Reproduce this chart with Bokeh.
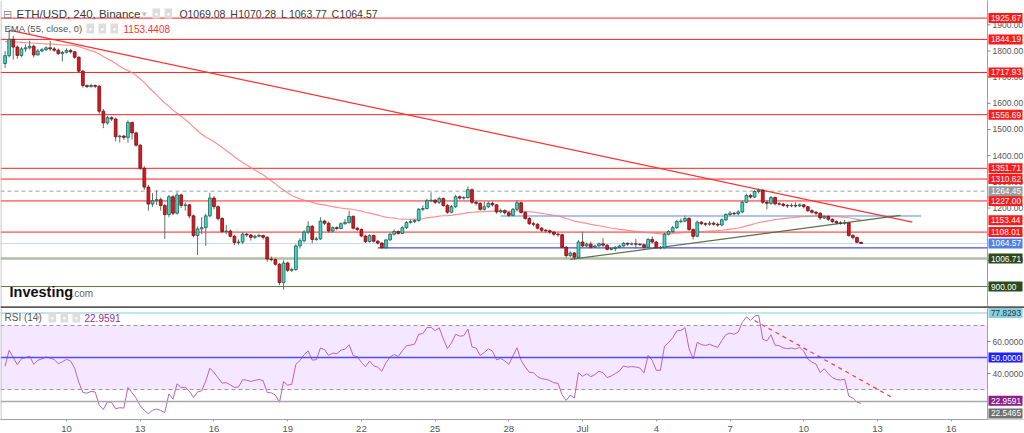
import pandas as pd
from bokeh.plotting import figure
from bokeh.layouts import column
from bokeh.models import Span, Label, FixedTicker, Range1d, ColumnDataSource, BoxAnnotation
from bokeh.core.properties import value
from bokeh.embed import file_html
from bokeh.resources import INLINE

# ---------------- data (ETH/USD, 4h candles, Binance) ----------------
first_time = "2022-06-07 12:00"
first_open = 1752.0
close = [1782, 1845, 1815, 1783, 1808, 1812, 1818, 1785, 1800, 1805,
         1812, 1808, 1803, 1790, 1795, 1802, 1797, 1776, 1723, 1668,
         1664, 1668, 1665, 1570, 1525, 1545, 1540, 1472, 1475, 1470,
         1527, 1487, 1440, 1352, 1280, 1215, 1228, 1232, 1210, 1175,
         1243, 1180, 1250, 1210, 1212, 1170, 1095, 1120, 1125, 1170,
         1238, 1205, 1160, 1110, 1112, 1092, 1068, 1070, 1100, 1097,
         1088, 1092, 1095, 1088, 1005, 1003, 985, 915, 990, 962,
         965, 1055, 1075, 1108, 1130, 1080, 1082, 1150, 1142, 1112,
         1125, 1122, 1140, 1145, 1168, 1123, 1118, 1093, 1072, 1095,
         1073, 1066, 1048, 1078, 1100, 1110, 1103, 1125, 1145, 1148,
         1152, 1195, 1198, 1228, 1230, 1222, 1236, 1210, 1184, 1205,
         1243, 1238, 1240, 1270, 1222, 1218, 1195, 1205, 1218, 1212,
         1185, 1190, 1182, 1172, 1195, 1220, 1183, 1160, 1140, 1138,
         1123, 1115, 1113, 1108, 1100, 1098, 1050, 1018, 1028, 1012,
         1070, 1055, 1062, 1050, 1055, 1063, 1058, 1042, 1045, 1050,
         1055, 1065, 1062, 1063, 1062, 1060, 1050, 1080, 1070, 1048,
         1048, 1100, 1110, 1125, 1148, 1150, 1160, 1118, 1092, 1146,
         1140, 1138, 1142, 1138, 1135, 1155, 1175, 1180, 1178, 1185,
         1222, 1248, 1242, 1263, 1268, 1222, 1218, 1240, 1216, 1215,
         1210, 1208, 1210, 1208, 1212, 1205, 1190, 1184, 1180, 1162,
         1168, 1157, 1148, 1143, 1142, 1143, 1095, 1087, 1069.08, 1064.57]
high = [1800, 1880, 1858, 1822, 1815, 1825, 1840, 1824, 1808, 1812,
        1818, 1838, 1815, 1810, 1800, 1810, 1808, 1800, 1780, 1728,
        1672, 1675, 1672, 1670, 1578, 1552, 1550, 1545, 1480, 1480,
        1535, 1530, 1492, 1445, 1360, 1288, 1257, 1268, 1240, 1215,
        1250, 1250, 1262, 1255, 1222, 1215, 1175, 1130, 1165, 1178,
        1258, 1246, 1210, 1165, 1135, 1118, 1098, 1080, 1108, 1105,
        1100, 1098, 1102, 1098, 1092, 1015, 1008, 990, 1000, 995,
        972, 1062, 1085, 1115, 1150, 1135, 1090, 1165, 1155, 1148,
        1130, 1130, 1145, 1158, 1190, 1172, 1128, 1122, 1098, 1100,
        1098, 1078, 1070, 1082, 1106, 1118, 1115, 1130, 1150, 1155,
        1158, 1200, 1210, 1235, 1260, 1235, 1242, 1240, 1215, 1212,
        1250, 1248, 1246, 1282, 1275, 1228, 1222, 1225, 1225, 1225,
        1215, 1198, 1195, 1188, 1200, 1230, 1225, 1188, 1165, 1148,
        1142, 1128, 1120, 1118, 1112, 1105, 1102, 1055, 1035, 1032,
        1078, 1110, 1068, 1072, 1060, 1068, 1085, 1062, 1050, 1055,
        1060, 1070, 1068, 1068, 1082, 1066, 1064, 1085, 1092, 1074,
        1055, 1105, 1115, 1132, 1155, 1160, 1172, 1165, 1122, 1152,
        1150, 1145, 1150, 1148, 1145, 1160, 1180, 1188, 1185, 1192,
        1228, 1255, 1255, 1268, 1275, 1272, 1230, 1246, 1244, 1222,
        1220, 1215, 1218, 1222, 1218, 1216, 1208, 1195, 1188, 1184,
        1172, 1172, 1160, 1152, 1150, 1155, 1146, 1100, 1092, 1070.28]
low = [1735, 1775, 1767, 1770, 1776, 1796, 1805, 1775, 1782, 1795,
       1800, 1800, 1796, 1785, 1760, 1790, 1790, 1770, 1715, 1660,
       1658, 1660, 1658, 1560, 1505, 1518, 1532, 1455, 1450, 1460,
       1450, 1462, 1435, 1345, 1270, 1190, 1205, 1212, 1190, 1082,
       1165, 1172, 1175, 1200, 1190, 1160, 1088, 1020, 1100, 1055,
       1165, 1195, 1152, 1105, 1100, 1088, 1058, 1060, 1062, 1090,
       1075, 1082, 1088, 1080, 995, 996, 980, 905, 888, 955,
       955, 960, 1045, 1068, 1100, 1065, 1074, 1078, 1135, 1105,
       1106, 1115, 1118, 1136, 1140, 1118, 1112, 1088, 1066, 1068,
       1068, 1060, 1044, 1045, 1075, 1095, 1098, 1100, 1120, 1140,
       1142, 1148, 1188, 1195, 1222, 1215, 1215, 1205, 1178, 1180,
       1200, 1232, 1232, 1236, 1215, 1210, 1190, 1190, 1200, 1205,
       1178, 1180, 1175, 1165, 1168, 1190, 1178, 1155, 1135, 1130,
       1118, 1108, 1105, 1100, 1092, 1090, 1045, 1010, 1012, 1003,
       1008, 1050, 1050, 1045, 1048, 1052, 1052, 1038, 1038, 1035,
       1046, 1052, 1056, 1057, 1045, 1055, 1045, 1046, 1065, 1044,
       1042, 1045, 1095, 1105, 1120, 1142, 1145, 1112, 1080, 1088,
       1135, 1130, 1132, 1132, 1128, 1130, 1150, 1170, 1172, 1172,
       1180, 1218, 1236, 1238, 1255, 1215, 1195, 1212, 1210, 1210,
       1204, 1200, 1203, 1202, 1204, 1198, 1185, 1178, 1172, 1155,
       1158, 1150, 1142, 1138, 1136, 1136, 1090, 1080, 1065, 1063.77]
last_open = 1069.08

# indicator settings / seeds (values read at the left edge of the chart)
ema_len = 55
ema_seed = 1838.0
rsi_len = 14
rsi_seed_gain, rsi_seed_loss = 8.3, 13.2

# horizontal levels on the price pane
red_levels = [1925.67, 1844.19, 1717.93, 1556.69, 1351.71, 1310.62, 1227.00, 1108.01]
gray_level = 1264.45
ema_last_label = 1153.44
price_last = 1064.57
green_light_level = 1006.71
green_dark_level = 900.00
blue_level = 1048.0
blue_start = "2022-06-22 16:00"
lightblue_level = 1169.0
lightblue_t = ["2022-06-27 16:00", "2022-07-14 18:40"]
down_t = ["2022-06-07 16:00", "2022-07-14 10:00"]
down_p = [1880.0, 1146.0]
up_t = ["2022-06-30 12:00", "2022-07-13 22:24"]
up_p = [1003.5, 1172.0]
price_ticks = [900, 1000, 1100, 1200, 1300, 1400, 1500, 1600, 1700, 1800, 1900]

# header values
ohlc_letters = ["O", "H", "L", "C"]
ohlc_values = ["1069.08", "1070.28", "1063.77", "1064.57"]

# RSI pane
rsi_top_level = 77.8293
rsi_low_level = 22.5465
rsi_last_label = 22.9591
rsi_trend_t = ["2022-07-08 00:00", "2022-07-13 15:00"]
rsi_trend_v = [73.1, 24.8]
rsi_ticks = [40, 60]

tick_dates = ["2022-06-10", "2022-06-13", "2022-06-16", "2022-06-19", "2022-06-22",
              "2022-06-25", "2022-06-28", "2022-07-01", "2022-07-04", "2022-07-07",
              "2022-07-10", "2022-07-13", "2022-07-16"]
tick_labels = ["10", "13", "16", "19", "22", "25", "28", "Jul", "4", "7", "10", "13", "16"]

# ---------------- derived ----------------
times = pd.date_range(first_time, periods=len(close), freq="4h")
opens = [first_open] + close[:-1]
opens[-1] = last_open

ema = []
e = ema_seed
k = 2.0 / (ema_len + 1)
for c in close:
    e = e + k * (c - e)
    ema.append(e)

rsi = []
ag, al = rsi_seed_gain, rsi_seed_loss
prev = first_open
for c in close:
    ch = c - prev
    ag = (ag * (rsi_len - 1) + max(ch, 0)) / rsi_len
    al = (al * (rsi_len - 1) + max(-ch, 0)) / rsi_len
    rsi.append(100.0 * ag / (ag + al))
    prev = c

UP_FILL, UP_LINE = "#3ddbc9", "#1d5a50"
DN_FILL, DN_LINE = "#e8141c", "#6b1111"
WICK = "#5f7264"
FONT = "Liberation Sans"

up = [c >= o for o, c in zip(opens, close)]
src = ColumnDataSource(dict(
    t=times, o=opens, h=high, l=low, c=close,
    top=[max(o, c) for o, c in zip(opens, close)],
    bot=[min(o, c) for o, c in zip(opens, close)],
    fill=[UP_FILL if u else DN_FILL for u in up],
    line=[UP_LINE if u else DN_LINE for u in up],
))

# ---------------- geometry ----------------
W = 1024
H1 = 308
FH2 = 111
day_px = 24.575
ref_day = pd.Timestamp("2022-06-10")


def px_t(px):
    return ref_day + pd.Timedelta(days=(px - 66) / day_px)


xr = Range1d(px_t(0), px_t(W))
SCALE_X = 987

ppx = 3.821  # price units per pixel
y_hi = 1992.9
y_lo = y_hi - H1 * ppx
rpx = 1 / 1.6  # rsi units per pixel
r_top = 50 + 49 * rpx
r_bot = r_top - FH2 * rpx


def draw_scale(fig, lo, hi, upp, ticks, fmt, tags):
    xa = px_t(SCALE_X)
    fig.quad(left=[xa], right=[px_t(W)], bottom=[lo], top=[hi], fill_color="white",
             line_color=None, level="overlay")
    fig.segment(x0=[xa], y0=[lo], x1=[xa], y1=[hi], line_color="#a0a0a0", line_width=1, level="overlay")
    n = len(ticks)
    fig.segment(x0=[xa] * n, y0=ticks, x1=[px_t(SCALE_X + 3)] * n, y1=ticks,
                line_color="#888888", line_width=1, level="overlay")
    fig.text(x=[px_t(SCALE_X + 5)] * n, y=ticks, text=[fmt % t for t in ticks],
             text_font=value(FONT), text_font_size="8.5px", text_color="#555555",
             text_baseline="middle", text_align="left", level="overlay")
    for v, bg, fg, dy in tags:
        yc = v - dy * upp
        fig.quad(left=[px_t(SCALE_X + 1)], right=[px_t(SCALE_X + 35)], bottom=[yc - 5 * upp],
                 top=[yc + 5 * upp], fill_color=bg, line_color=None, level="overlay")
        fig.text(x=[px_t(SCALE_X + 3.5)], y=[yc], text=[fmt % v], text_font=value(FONT),
                 text_font_size="8.3px", text_color=fg, text_baseline="middle",
                 text_align="left", level="overlay")


def hdr(fig, x, y, text, size="12px", color="#333333", style="normal"):
    fig.add_layout(Label(x=x, y=y, x_units="screen", y_units="screen", text=text,
                         text_font=FONT, text_font_size=size, text_color=color,
                         text_baseline="middle", text_align="left", text_font_style=style))


def icons(fig, xs, y):
    for xx in xs:
        fig.add_layout(Label(x=xx, y=y, x_units="screen", y_units="screen", text="\u25cf",
                             text_font_size="6px", text_color="white", text_baseline="middle",
                             background_fill_color="#dddddd", padding=2))


# ---------------- price pane ----------------
p1 = figure(frame_width=W, frame_height=H1, x_range=xr, y_range=Range1d(y_lo, y_hi),
            x_axis_type="datetime", x_axis_location=None, y_axis_location=None,
            toolbar_location=None, output_backend="svg",
            min_border_left=0, min_border_right=0, min_border_top=0, min_border_bottom=0,
            background_fill_color="white", border_fill_color="white", outline_line_color=None)
p1.grid.visible = False

for lv in red_levels:
    p1.add_layout(Span(location=lv, dimension="width", line_color="#ff2020", line_width=1, level="underlay"))
p1.add_layout(Span(location=gray_level, dimension="width", line_color="#a0a0a0", line_width=1,
                   line_dash="4 3", level="underlay"))
p1.add_layout(Span(location=green_light_level, dimension="width", line_color="#aebfa5", line_width=2.5, level="underlay"))
p1.add_layout(Span(location=green_dark_level, dimension="width", line_color="#557a44", line_width=1, level="underlay"))
p1.add_layout(Span(location=price_last, dimension="width", line_color="#8fb0ee", line_width=1,
                   line_dash="1 1", level="underlay"))
p1.line([pd.Timestamp(blue_start), px_t(W)], [blue_level, blue_level], line_color="#4b4bd8", line_width=1.2)
p1.line([pd.Timestamp(t) for t in lightblue_t], [lightblue_level] * 2, line_color="#a9c4ee", line_width=2)

p1.line(times, ema, line_color="#ff7b7b", line_width=1.2, line_alpha=0.85)
p1.line([pd.Timestamp(t) for t in down_t], down_p, line_color="#ff3030", line_width=1.2)
p1.line([pd.Timestamp(t) for t in up_t], up_p, line_color="#5d6e4e", line_width=1.2)

w = 4 * 3600 * 1000 * 0.68
p1.segment(x0="t", y0="l", x1="t", y1="h", source=src, line_color=WICK, line_width=1)
p1.vbar(x="t", width=w, top="top", bottom="bot", source=src,
        fill_color="fill", line_color="line", line_width=0.8)

tags1 = [(v, "#ff1a1a", "white", 0) for v in red_levels] + [
    (gray_level, "#9b9b9b", "white", 0), (ema_last_label, "#ff1a1a", "white", 0),
    (price_last, "#4f7fe8", "white", 0),
    (green_light_level, "#2c4a1c", "white", 0), (green_dark_level, "#2c4a1c", "white", 0)]
draw_scale(p1, y_lo, y_hi, ppx, price_ticks, "%.2f", tags1)

# left border and pane separator
p1.add_layout(Span(location=px_t(0.5), dimension="height", line_color="#b4b4b4", line_width=1))
p1.add_layout(Span(location=y_lo + 1.2 * ppx, dimension="width", line_color="#5a5a5a", line_width=2,
                   level="overlay"))

hdr(p1, 2, H1 - 13, "\u229f", size="11px", color="#8a8a8a")
hdr(p1, 16, H1 - 13, "ETH/USD, 240, Binance", size="11.5px", color="#3a3a3a")
hdr(p1, 141, H1 - 13, "\u25be", size="9px", color="#c0c0c0")
icons(p1, [152, 164], H1 - 13)
for j, (lt, vv) in enumerate(zip(ohlc_letters, ohlc_values)):
    hdr(p1, 179 + 50.7 * j, H1 - 13, lt, size="10.5px", color="#3a3a3a")
    hdr(p1, 187 + 50.7 * j, H1 - 13, vv, size="10.5px", color="#3a3a3a")
hdr(p1, 4, H1 - 28, "EMA (55, close, 0)", size="9.5px", color="#555555")
hdr(p1, 75, H1 - 28, "\u25be", size="8px", color="#c0c0c0")
icons(p1, [86, 98, 110], H1 - 28)
hdr(p1, 123, H1 - 28, "1153.4408", size="10px", color="#ff3030")
hdr(p1, 9, 17, "Investing", size="14.5px", color="#111111", style="bold")
hdr(p1, 71, 15, ".com", size="10px", color="#666666")

# ---------------- RSI pane ----------------
p2 = figure(frame_width=W, frame_height=FH2, x_range=xr, y_range=Range1d(r_bot, r_top),
            x_axis_type="datetime", y_axis_location=None,
            toolbar_location=None, output_backend="svg",
            min_border_left=0, min_border_right=0, min_border_top=0, min_border_bottom=0,
            background_fill_color="white", border_fill_color="white", outline_line_color=None)
p2.grid.visible = False

rx = p2.xaxis[0]
tick_ms = [pd.Timestamp(d).value // 10**6 for d in tick_dates]
rx.ticker = FixedTicker(ticks=tick_ms)
rx.major_label_overrides = {m: lab for m, lab in zip(tick_ms, tick_labels)}
rx.major_label_text_font_size = "9.5px"
rx.major_label_text_color = "#555555"
rx.major_label_text_font = FONT
rx.axis_line_color = "#a0a0a0"
rx.major_tick_line_color = "#a0a0a0"
rx.major_tick_out = 2
rx.major_tick_in = 0
rx.minor_tick_line_color = None
rx.major_label_standoff = 1

p2.add_layout(BoxAnnotation(bottom=30, top=70, fill_color="#9915ff", fill_alpha=0.1,
                            line_color=None, level="underlay"))
p2.add_layout(Span(location=70, dimension="width", line_color="#a090a4", line_dash="4 3", line_width=1))
p2.add_layout(Span(location=30, dimension="width", line_color="#a090a4", line_dash="4 3", line_width=1))
p2.add_layout(Span(location=50, dimension="width", line_color="#4d4dff", line_width=1.5))
p2.add_layout(Span(location=rsi_top_level, dimension="width", line_color="#aadcea", line_width=1.5))
p2.add_layout(Span(location=rsi_low_level, dimension="width", line_color="#a8a8a8", line_width=1.5))
p2.add_layout(Span(location=px_t(0.5), dimension="height", line_color="#b4b4b4", line_width=1))
p2.line(times, rsi, line_color="#b463c8", line_width=1)
p2.line([pd.Timestamp(t) for t in rsi_trend_t], rsi_trend_v, line_color="#ff4040",
        line_width=1.3, line_dash="4 4")

tags2 = [(rsi_top_level, "#86d0e2", "#333333", 0), (50.0, "#2020ff", "white", 0),
         (rsi_last_label, "#8e1f8a", "white", 0), (rsi_low_level, "#707070", "white", 12)]
draw_scale(p2, r_bot, r_top, rpx, rsi_ticks, "%.4f", tags2)

hdr(p2, 4, FH2 - 9, "RSI (14)", size="10px", color="#555555")
hdr(p2, 35, FH2 - 9, "\u25be", size="8px", color="#c0c0c0")
icons(p2, [48, 60, 72], FH2 - 9)
hdr(p2, 84, FH2 - 9, "22.9591", size="10px", color="#9a2a9a")

layout = column(p1, p2, spacing=0)
open("out.html", "w").write(file_html(layout, INLINE))
